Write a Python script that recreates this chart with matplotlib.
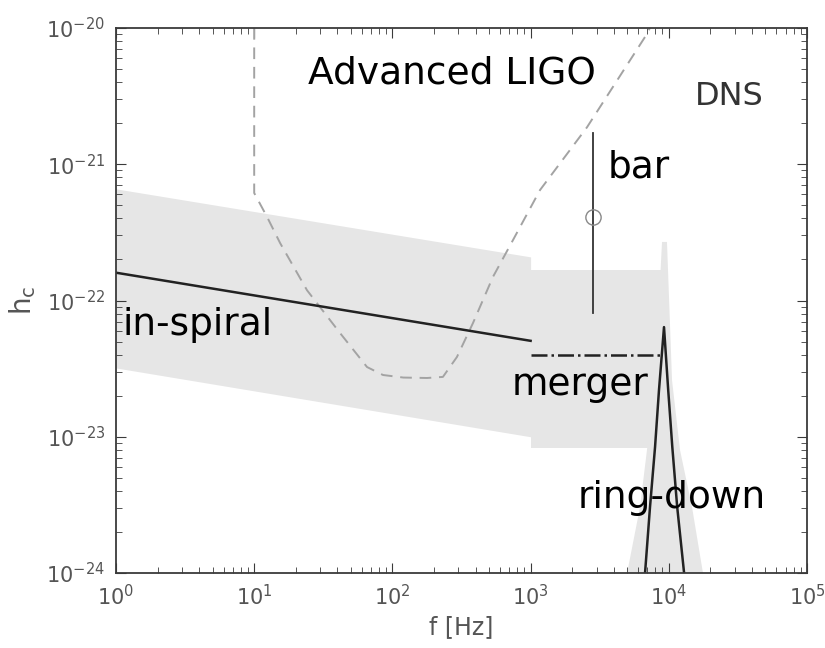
"""Characteristic strain of a DNS signal vs. Advanced LIGO sensitivity."""

import matplotlib

matplotlib.use("Agg")
import matplotlib.pyplot as plt

# Advanced LIGO noise curve (dashed)
ligo_f = [10, 10, 12.4, 15.4, 24.1, 41.8, 65.5, 85.5, 120, 178, 232, 293, 383,
          534, 746, 1170, 2560, 6730, 7300]
ligo_h = [1e-20, 6.15e-22, 4.1e-22, 2.64e-22, 1.19e-22, 5.77e-23, 3.25e-23,
          2.84e-23, 2.72e-23, 2.70e-23, 2.75e-23, 3.85e-23, 6.84e-23, 1.49e-22,
          2.78e-22, 6.47e-22, 1.87e-21, 8.6e-21, 1e-20]

# in-spiral
insp_f = [1, 1e3]
insp_h = [1.6e-22, 5.06e-23]
insp_lo = [3.2e-23, 1.0e-23]
insp_hi = [6.6e-22, 2.09e-22]

# merger
merg_band_f = [1e3, 9.1e3]
merg_lo = [8.3e-24, 8.3e-24]
merg_hi = [1.67e-22, 1.67e-22]
merg_f = [1e3, 8.6e3]
merg_h = [4.0e-23, 4.0e-23]

# ring-down
rd_band_f = [4990, 6190, 6950, 7940, 8930, 9700, 10550, 12050, 14720, 17670]
rd_band_h = [1e-24, 3.05e-24, 8.0e-24, 2.6e-23, 2.69e-22, 2.69e-22, 2.6e-23,
             8.0e-24, 3.05e-24, 1e-24]
rd_f = [6730, 7310, 7950, 8490, 9230, 9900, 10600, 11500, 12900]
rd_h = [1e-24, 3.05e-24, 8.4e-24, 2.2e-23, 6.38e-23, 2.2e-23, 8.4e-24,
        3.05e-24, 1e-24]

# bar
bar_f = 2830
bar_lo = 8.1e-23
bar_hi = 1.7e-21
bar_mid = 4.1e-22

band_color = "#e6e6e6"

fig = plt.figure(figsize=(8.25, 6.48), dpi=100)
ax = fig.add_axes([0.1406, 0.1157, 0.8376, 0.8411])
ax.set_xscale("log")
ax.set_yscale("log")
ax.set_xlim(1, 1e5)
ax.set_ylim(1e-24, 1e-20)

# shaded bands
ax.fill_between(insp_f, insp_lo, insp_hi, color=band_color, lw=0)
ax.fill_between(merg_band_f, merg_lo, merg_hi, color=band_color, lw=0)
ax.fill(rd_band_f, rd_band_h, color=band_color, lw=0)

# curves
ax.plot(ligo_f, ligo_h, color="#a3a3a3", lw=1.4, ls=(0, (6, 4)))
ax.plot(insp_f, insp_h, color="#222222", lw=1.8)
ax.plot(merg_f, merg_h, color="#222222", lw=1.8, ls="-.")
ax.plot(rd_f, rd_h, color="#222222", lw=1.8)
ax.plot([bar_f, bar_f], [bar_lo, bar_hi], color="#333333", lw=1.3)
ax.plot([bar_f], [bar_mid], marker="o", ms=11, mfc="none", mec="#888888",
        mew=1.0)

# labels
lab = dict(fontsize=27, color="black", va="baseline", ha="left")
ax.text(24.5, 3.9e-21, "Advanced LIGO", **lab)
ax.text(3630, 8.05e-22, "bar", **lab)
ax.text(1.12, 5.58e-23, "in-spiral", **lab)
ax.text(733, 2.02e-23, "merger", **lab)
ax.text(2200, 3.0e-24, "ring-down", **lab)
ax.text(1.55e4, 2.72e-21, "DNS", fontsize=23, color="#333333",
        va="baseline", ha="left")

# axes styling, matlab-like
for sp in ax.spines.values():
    sp.set_color("#3a3a3a")
    sp.set_linewidth(1.3)
ax.tick_params(which="both", direction="in", top=True, right=True,
               colors="#3a3a3a", labelcolor="#555555")
ax.tick_params(which="major", length=7, labelsize=15, pad=8)
ax.tick_params(which="minor", length=4)
ax.set_xlabel("f [Hz]", fontsize=17, color="#555555", labelpad=4)
ax.set_ylabel(r"h$_\mathregular{c}$", fontsize=20, color="#555555",
              labelpad=6)

fig.savefig("out.png", dpi=100)
